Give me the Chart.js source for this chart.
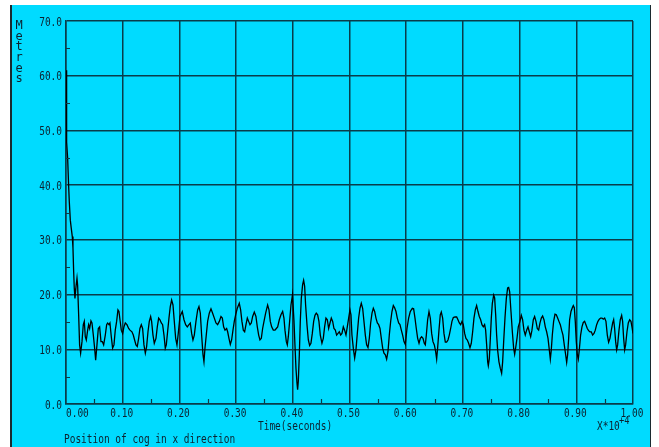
<!DOCTYPE html>
<html>
<head>
<meta charset="utf-8">
<script src="https://cdn.jsdelivr.net/npm/chart.js@4/dist/chart.umd.min.js"></script>
<style>
  html, body { margin: 0; padding: 0; background: #fff; }
  canvas { display: block; }
</style>
</head>
<body>
<canvas id="chart" width="659" height="447"></canvas>
<script>
// time axis is in units of 10^4 seconds
const times = [
  0, 0.0005, 0.0017, 0.0029, 0.0046, 0.0058, 0.0076, 0.0093, 0.0111, 0.0123, 0.0135, 0.0146, 0.0158, 0.0176, 0.0194, 0.0205,
  0.0223, 0.0240, 0.0258, 0.0282, 0.0305, 0.0323, 0.0340, 0.0358, 0.0382, 0.0399, 0.0417, 0.0440, 0.0458, 0.0482, 0.0505, 0.0523, 0.0546, 0.0570, 0.0593, 0.0617,
  0.0640, 0.0664, 0.0693, 0.0717, 0.0734, 0.0758, 0.0775, 0.0799, 0.0822, 0.0846, 0.0869, 0.0893, 0.0916, 0.0934, 0.0952, 0.0975, 0.0999, 0.1022, 0.1046, 0.1075,
  0.1105, 0.1128, 0.1163, 0.1187, 0.1210, 0.1234, 0.1257, 0.1281, 0.1304, 0.1328, 0.1351, 0.1375, 0.1399, 0.1422, 0.1446, 0.1469, 0.1493, 0.1510, 0.1534, 0.1557,
  0.1587, 0.1610, 0.1634, 0.1657, 0.1681, 0.1704, 0.1728, 0.1751, 0.1769, 0.1792, 0.1816, 0.1839, 0.1863, 0.1887, 0.1910, 0.1934, 0.1957, 0.1981,
  0.2010, 0.2051, 0.2081, 0.2110, 0.2139, 0.2169, 0.2192, 0.2216, 0.2239, 0.2263, 0.2292, 0.2322, 0.2345, 0.2369, 0.2392, 0.2416, 0.2433, 0.2451, 0.2474, 0.2498,
  0.2527, 0.2557, 0.2586, 0.2616, 0.2645, 0.2674, 0.2704, 0.2733, 0.2757, 0.2780, 0.2804, 0.2833, 0.2851, 0.2874, 0.2898, 0.2921, 0.2945, 0.2968, 0.2992, 0.3021,
  0.3056, 0.3080, 0.3103, 0.3127, 0.3151, 0.3174, 0.3198, 0.3221, 0.3245, 0.3268, 0.3292, 0.3321, 0.3350, 0.3374, 0.3398, 0.3421, 0.3445, 0.3468, 0.3492, 0.3521,
  0.3556, 0.3580, 0.3603, 0.3627, 0.3656, 0.3686, 0.3709, 0.3733, 0.3762, 0.3791, 0.3821, 0.3844, 0.3862, 0.3886, 0.3903, 0.3921, 0.3944, 0.3968,
  0.3995, 0.4021, 0.4038, 0.4056, 0.4074, 0.4085, 0.4097, 0.4115, 0.4132, 0.4150, 0.4173, 0.4191, 0.4209, 0.4226, 0.4250, 0.4274, 0.4297, 0.4320, 0.4344, 0.4368,
  0.4391, 0.4414, 0.4438, 0.4461, 0.4485, 0.4514, 0.4538, 0.4561, 0.4585, 0.4609, 0.4632, 0.4656, 0.4679, 0.4703, 0.4726, 0.4750, 0.4773, 0.4797, 0.4820, 0.4844,
  0.4867, 0.4891, 0.4914, 0.4938, 0.4961, 0.4985, 0.5008, 0.5026, 0.5043, 0.5067, 0.5091, 0.5114, 0.5138, 0.5161, 0.5185, 0.5208, 0.5232, 0.5255, 0.5279, 0.5302,
  0.5326, 0.5349, 0.5373, 0.5397, 0.5420, 0.5444, 0.5467, 0.5491, 0.5514, 0.5538, 0.5561, 0.5585, 0.5608, 0.5632, 0.5655, 0.5679, 0.5702, 0.5726, 0.5749, 0.5773,
  0.5796, 0.5820, 0.5843, 0.5867, 0.5890, 0.5914, 0.5937, 0.5961, 0.5984,
  0.6014, 0.6043, 0.6072, 0.6108, 0.6131, 0.6155, 0.6178, 0.6202, 0.6226, 0.6249, 0.6272, 0.6296, 0.6319, 0.6337, 0.6355, 0.6378, 0.6402, 0.6425, 0.6449, 0.6472,
  0.6496, 0.6519, 0.6537, 0.6554, 0.6578, 0.6601, 0.6619, 0.6643, 0.6666, 0.6690, 0.6713, 0.6737, 0.6760, 0.6784, 0.6807, 0.6831, 0.6860, 0.6890, 0.6913, 0.6937,
  0.6960, 0.6984, 0.7007, 0.7031, 0.7054, 0.7078, 0.7101, 0.7125, 0.7148, 0.7172, 0.7195, 0.7219, 0.7242, 0.7266, 0.7289, 0.7313, 0.7336, 0.7360, 0.7383, 0.7401,
  0.7419, 0.7437, 0.7448, 0.7466, 0.7484, 0.7501, 0.7519, 0.7543, 0.7560, 0.7578, 0.7595, 0.7613, 0.7636, 0.7660, 0.7683, 0.7701, 0.7719, 0.7742, 0.7766, 0.7789,
  0.7807, 0.7825, 0.7848, 0.7872, 0.7895, 0.7913, 0.7930, 0.7954, 0.7977,
  0.8006, 0.8030, 0.8053, 0.8077, 0.8100, 0.8124, 0.8148, 0.8171, 0.8195, 0.8218, 0.8242, 0.8265, 0.8289, 0.8312, 0.8336, 0.8359, 0.8383, 0.8406, 0.8430, 0.8453,
  0.8477, 0.8501, 0.8524, 0.8542, 0.8559, 0.8577, 0.8600, 0.8624, 0.8647, 0.8671, 0.8694, 0.8718, 0.8741, 0.8765, 0.8788, 0.8812, 0.8830, 0.8847, 0.8865, 0.8882,
  0.8906, 0.8930, 0.8947, 0.8965, 0.8982, 0.9000, 0.9018, 0.9035, 0.9053, 0.9076, 0.9100, 0.9123, 0.9147, 0.9170, 0.9194, 0.9217, 0.9241, 0.9264, 0.9288, 0.9312,
  0.9335, 0.9359, 0.9382, 0.9406, 0.9429, 0.9453, 0.9476, 0.9500, 0.9523, 0.9547, 0.9570, 0.9594, 0.9618, 0.9641, 0.9659, 0.9676, 0.9694, 0.9712, 0.9729, 0.9753,
  0.9776, 0.9800, 0.9817, 0.9835, 0.9853, 0.9870, 0.9894, 0.9917, 0.9941, 0.9964, 0.9982, 1.0000
];

// position of cog in x direction, metres
const metres = [
  61.0, 53.4, 47.9, 44.9, 40.0, 37.0, 33.6, 32.1, 30.6, 28.5, 24.2, 21.1, 19.3, 21.4, 23.0, 21.7,
  16.3, 10.8, 9.3, 11.4, 14.5, 15.1, 12.3, 11.7, 13.5, 14.5, 13.8, 15.2, 14.8, 12.6, 10.2, 8.0, 10.8, 13.8, 14.1, 11.4,
  11.4, 10.8, 12.6, 14.5, 14.8, 14.5, 14.8, 12.3, 10.2, 10.8, 13.5, 15.1, 17.2, 16.9, 15.4, 13.5, 12.9, 14.1, 14.8, 14.5,
  13.8, 13.5, 13.2, 12.6, 11.7, 10.8, 10.5, 12.0, 13.8, 14.5, 13.8, 10.8, 9.3, 10.5, 13.2, 15.1, 16.0, 15.1, 12.6, 11.1,
  12.0, 14.1, 15.7, 15.4, 14.8, 14.5, 12.6, 10.2, 10.8, 13.2, 15.7, 17.8, 19.0, 18.1, 15.1, 12.0, 10.8, 13.0,
  16.0, 16.9, 15.4, 14.5, 14.1, 14.5, 14.8, 12.9, 11.7, 12.6, 15.1, 17.2, 17.8, 16.6, 12.6, 9.0, 7.7, 10.2, 12.6, 15.1,
  16.6, 17.4, 16.6, 15.7, 14.8, 14.5, 15.1, 16.0, 15.7, 14.1, 13.5, 13.8, 13.2, 12.0, 10.9, 11.7, 13.5, 15.1, 16.3, 17.5,
  18.4, 17.2, 15.1, 13.5, 13.2, 14.5, 15.7, 15.1, 14.5, 14.8, 16.0, 16.8, 16.0, 14.1, 12.6, 11.7, 12.0, 13.8, 15.1, 16.6,
  18.1, 17.2, 15.1, 14.1, 13.5, 13.5, 13.8, 14.1, 15.4, 16.3, 16.9, 15.7, 13.5, 11.4, 10.8, 12.3, 15.1, 18.1,
  20.0, 15.1, 10.8, 6.5, 3.8, 2.6, 4.1, 9.0, 15.1, 19.3, 21.8, 22.6, 21.5, 18.1, 14.5, 11.7, 10.7, 11.1, 12.9, 15.1,
  16.2, 16.6, 16.3, 15.1, 12.6, 11.1, 12.0, 14.1, 15.7, 15.4, 13.8, 14.8, 15.7, 15.1, 13.8, 13.5, 12.6, 12.9, 13.2, 12.6,
  12.9, 14.1, 13.5, 12.6, 14.1, 15.7, 17.2, 16.3, 12.6, 10.2, 8.4, 9.9, 12.9, 15.7, 17.5, 18.4, 17.5, 15.1, 12.6, 10.8,
  10.3, 12.0, 14.8, 16.6, 17.5, 16.9, 15.7, 14.8, 14.5, 13.8, 12.0, 10.2, 9.3, 9.0, 8.2, 9.6, 12.6, 15.1, 16.9, 18.0,
  17.6, 16.9, 15.7, 14.8, 14.5, 13.5, 12.6, 11.4, 10.9,
  13.8, 15.7, 16.9, 17.5, 17.4, 15.7, 13.8, 12.0, 11.1, 12.0, 12.3, 12.0, 11.1, 10.8, 12.6, 15.4, 16.9, 15.7, 12.9, 11.4,
  10.8, 9.6, 8.2, 10.2, 13.5, 16.3, 16.8, 15.7, 12.9, 11.3, 11.3, 11.7, 12.6, 13.8, 15.1, 15.8, 15.9, 15.9, 15.4, 14.8,
  14.5, 15.1, 14.5, 12.9, 12.0, 11.7, 11.1, 10.3, 11.1, 13.2, 15.7, 17.2, 18.0, 16.9, 16.0, 15.4, 14.5, 14.1, 14.5, 13.5,
  10.8, 7.7, 7.0, 8.3, 12.0, 15.7, 18.4, 19.9, 19.4, 16.3, 12.6, 9.8, 7.7, 6.5, 5.6, 7.7, 11.4, 15.7, 19.3, 21.2,
  21.3, 20.5, 16.9, 13.2, 10.2, 9.1, 10.2, 12.0, 14.1,
  15.1, 16.2, 15.4, 13.5, 12.6, 13.5, 14.1, 13.2, 12.3, 13.5, 15.4, 16.0, 15.1, 13.8, 13.5, 14.8, 15.7, 16.1, 15.4, 14.1,
  13.2, 12.0, 9.9, 8.2, 9.9, 12.6, 15.1, 16.4, 16.3, 15.7, 15.1, 14.5, 13.5, 12.6, 10.8, 9.0, 7.6, 9.0, 12.0, 15.4,
  16.9, 17.6, 18.0, 17.6, 15.1, 11.4, 9.0, 8.2, 9.9, 12.6, 14.1, 14.9, 15.1, 14.5, 13.8, 13.4, 13.2, 13.2, 12.6, 12.9,
  13.5, 14.5, 15.1, 15.5, 15.7, 15.7, 15.5, 15.7, 15.1, 12.6, 11.3, 12.0, 13.5, 14.8, 15.4, 13.8, 11.4, 9.9, 10.8, 13.5,
  15.4, 16.2, 15.1, 12.0, 9.9, 10.8, 13.2, 14.8, 15.4, 15.1, 14.1, 12.9
];

const xMinorTicks = [0.05, 0.15, 0.25, 0.35, 0.45, 0.55, 0.65, 0.75, 0.85, 0.95];
const yMinorTicks = [5, 15, 25, 35, 45, 55, 65];

if (times.length !== metres.length) {
  console.error('length mismatch', times.length, metres.length);
}

const PANEL = '#00dbff';
const INK = '#0c2230';
const GRID = '#0a3c4a';
const MONO = '"DejaVu Sans Mono", "Liberation Mono", monospace';
const SQUEEZE = 0.79; // the old plotter font is narrow

/**
 * Draws text squeezed horizontally, anchored at (x, y) in canvas pixels.
 * @param {string} align - 'left', 'center' or 'right'
 */
const drawText = (ctx, text, x, y, size, align = 'left') => {
  ctx.save();
  ctx.translate(x, y);
  ctx.scale(SQUEEZE, 1);
  ctx.font = `${size}px ${MONO}`;
  ctx.fillStyle = INK;
  ctx.textAlign = align;
  ctx.textBaseline = 'alphabetic';
  ctx.fillText(text, 0, 0);
  ctx.restore();
};

const framePlugin = {
  id: 'frame',
  beforeDraw: (chart) => {
    const { ctx, width, height } = chart;
    ctx.save();
    ctx.fillStyle = '#ffffff';
    ctx.fillRect(0, 0, width, height);
    ctx.fillStyle = PANEL;
    ctx.fillRect(12, 5, 638, height - 5);
    ctx.strokeStyle = '#1a2a30';
    ctx.lineWidth = 2;
    ctx.beginPath();
    ctx.moveTo(11, 5);
    ctx.lineTo(11, height);
    ctx.stroke();
    ctx.lineWidth = 1;
    ctx.beginPath();
    ctx.moveTo(650.5, 5);
    ctx.lineTo(650.5, height);
    ctx.stroke();
    ctx.restore();
  },
  afterDraw: (chart) => {
    const { ctx, chartArea, scales } = chart;
    ctx.save();
    ctx.strokeStyle = GRID;
    ctx.lineWidth = 1.2;
    ctx.beginPath();
    xMinorTicks.forEach((v) => {
      const px = Math.round(scales.x.getPixelForValue(v)) + 0.5;
      ctx.moveTo(px, chartArea.bottom);
      ctx.lineTo(px, chartArea.bottom - 5);
    });
    yMinorTicks.forEach((v) => {
      const py = Math.round(scales.y.getPixelForValue(v)) + 0.5;
      ctx.moveTo(chartArea.left, py);
      ctx.lineTo(chartArea.left + 4, py);
    });
    ctx.stroke();
    ctx.restore();

    // tick labels: first x label sits to the right of the axis like the original
    scales.x.ticks.forEach((tick, i) => {
      const px = scales.x.getPixelForValue(tick.value);
      const label = tick.value.toFixed(2);
      if (i === 0) drawText(ctx, label, px, 417, 12, 'left');
      else drawText(ctx, label, px - 1, 417, 12, 'center');
    });
    scales.y.ticks.forEach((tick) => {
      const py = scales.y.getPixelForValue(tick.value);
      drawText(ctx, tick.value.toFixed(1), 62, py + 4.5, 12, 'right');
    });

    drawText(ctx, 'Time(seconds)', 258, 430, 12);
    drawText(ctx, 'X*10', 597, 430, 12);
    drawText(ctx, '+4', 619, 424, 11);
    drawText(ctx, 'Position of cog in x direction', 64, 443, 12);

    // y axis title, one upright letter under the other
    ctx.save();
    ctx.font = `12px ${MONO}`;
    ctx.fillStyle = INK;
    ctx.textAlign = 'center';
    ctx.textBaseline = 'middle';
    'Metres'.split('').forEach((ch, i) => ctx.fillText(ch, 19, 26 + i * 10.6));
    ctx.restore();
  }
};

new Chart(document.getElementById('chart'), {
  type: 'line',
  data: {
    datasets: [{
      label: 'Position of cog in x direction',
      data: times.map((t, i) => ({ x: t, y: metres[i] })),
      borderColor: '#000000',
      borderWidth: 1.3,
      pointRadius: 0,
      tension: 0,
      fill: false,
    }]
  },
  options: {
    responsive: false,
    animation: false,
    events: [],
    layout: {
      padding: { top: 21, right: 26, left: 0, bottom: 0 }
    },
    plugins: {
      legend: { display: false },
      title: { display: false },
      tooltip: { enabled: false },
    },
    scales: {
      x: {
        type: 'linear',
        min: 0,
        max: 1,
        afterFit: (scale) => { scale.height = 43; },
        border: { display: true, color: GRID, width: 1.5 },
        grid: { color: GRID, lineWidth: 1.5, drawTicks: false },
        ticks: { stepSize: 0.1, autoSkip: false, display: false },
      },
      y: {
        min: 0,
        max: 70,
        afterFit: (scale) => { scale.width = 66; },
        border: { display: true, color: GRID, width: 1.5 },
        grid: { color: GRID, lineWidth: 1.5, drawTicks: false },
        ticks: { stepSize: 10, display: false },
      },
    },
  },
  plugins: [framePlugin],
});
</script>
</body>
</html>
